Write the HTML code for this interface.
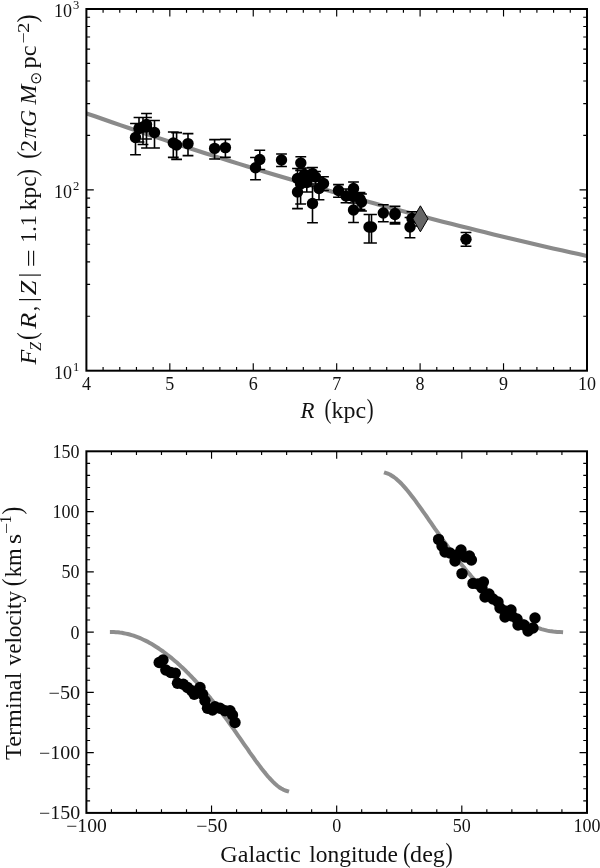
<!DOCTYPE html>
<html lang="en"><head><meta charset="utf-8"><title>Figure</title>
<style>html,body{margin:0;padding:0;background:#fff}svg{display:block}text{font-family:"Liberation Serif","DejaVu Serif",serif;fill:#111}.tk{font-size:18px}.sp{font-size:12.6px}.lb{font-size:22.5px}.ls{font-size:15.8px}.pr{font-size:28px}.br{font-size:26px}.od{font-size:15px}.dj{font-family:"DejaVu Sans",sans-serif}.it{font-style:italic}</style></head><body>
<svg width="600" height="868" viewBox="0 0 600 868">
<rect width="600" height="868" fill="#fff"/>
<g id="top">
<clipPath id="c1"><rect x="86.4" y="9.0" width="500.55000000000007" height="361.7"/></clipPath>
<polyline clip-path="url(#c1)" fill="none" stroke="#8a8a8a" stroke-width="4.1" points="86.4,113.4 94.9,116.3 103.4,119.3 111.9,122.2 120.3,125.1 128.8,128.0 137.3,130.9 145.8,133.7 154.3,136.6 162.8,139.4 171.2,142.2 179.7,145.0 188.2,147.7 196.7,150.5 205.2,153.2 213.7,155.9 222.1,158.6 230.6,161.2 239.1,163.9 247.6,166.5 256.1,169.1 264.6,171.7 273.0,174.3 281.5,176.8 290.0,179.3 298.5,181.9 307.0,184.3 315.5,186.8 323.9,189.3 332.4,191.7 340.9,194.1 349.4,196.5 357.9,198.9 366.4,201.3 374.9,203.6 383.3,205.9 391.8,208.2 400.3,210.5 408.8,212.8 417.3,215.0 425.8,217.3 434.2,219.5 442.7,221.7 451.2,223.8 459.7,226.0 468.2,228.1 476.7,230.2 485.1,232.3 493.6,234.4 502.1,236.4 510.6,238.5 519.1,240.5 527.6,242.5 536.0,244.5 544.5,246.4 553.0,248.4 561.5,250.3 570.0,252.2 578.5,254.1 587.0,256.0"/>
<path d="M135.5 123.5V154.7M130.1 123.5h10.8M130.1 154.7h10.8M139.0 117.5V142.0M133.6 117.5h10.8M133.6 142.0h10.8M143.0 117.5V144.5M137.6 117.5h10.8M137.6 144.5h10.8M146.5 113.5V148.0M141.1 113.5h10.8M141.1 148.0h10.8M146.5 117.5V139.0M141.1 117.5h10.8M141.1 139.0h10.8M154.5 120.5V148.0M149.1 120.5h10.8M149.1 148.0h10.8M173.3 132.0V157.4M167.9 132.0h10.8M167.9 157.4h10.8M176.6 132.6V159.4M171.2 132.6h10.8M171.2 159.4h10.8M188.0 133.6V155.6M182.6 133.6h10.8M182.6 155.6h10.8M214.6 139.6V159.0M209.2 139.6h10.8M209.2 159.0h10.8M225.4 139.4V157.4M220.0 139.4h10.8M220.0 157.4h10.8M255.5 157.5V179.8M250.1 157.5h10.8M250.1 179.8h10.8M259.8 150.3V169.5M254.4 150.3h10.8M254.4 169.5h10.8M281.5 154.0V166.5M276.1 154.0h10.8M276.1 166.5h10.8M300.8 156.8V168.8M295.4 156.8h10.8M295.4 168.8h10.8M297.5 168.5V208.5M292.1 168.5h10.8M292.1 208.5h10.8M297.5 180.0V208.8M292.1 180.0h10.8M292.1 208.8h10.8M300.6 170.5V204.0M295.2 170.5h10.8M295.2 204.0h10.8M306.8 172.0V192.0M301.4 172.0h10.8M301.4 192.0h10.8M304.5 168.0V181.0M299.1 168.0h10.8M299.1 181.0h10.8M312.5 167.5V181.0M307.1 167.5h10.8M307.1 181.0h10.8M312.5 186.0V222.8M307.1 186.0h10.8M307.1 222.8h10.8M315.5 171.5V184.0M310.1 171.5h10.8M310.1 184.0h10.8M319.0 178.0V199.8M313.6 178.0h10.8M313.6 199.8h10.8M323.5 176.8V190.5M318.1 176.8h10.8M318.1 190.5h10.8M338.5 184.6V197.3M333.1 184.6h10.8M333.1 197.3h10.8M346.0 189.0V202.8M340.6 189.0h10.8M340.6 202.8h10.8M353.5 182.0V195.0M348.1 182.0h10.8M348.1 195.0h10.8M353.5 200.0V222.5M348.1 200.0h10.8M348.1 222.5h10.8M353.0 190.0V203.0M347.6 190.0h10.8M347.6 203.0h10.8M360.0 192.5V209.5M354.6 192.5h10.8M354.6 209.5h10.8M361.5 194.0V211.0M356.1 194.0h10.8M356.1 211.0h10.8M369.0 214.5V243.0M363.6 214.5h10.8M363.6 243.0h10.8M371.5 214.5V243.0M366.1 214.5h10.8M366.1 243.0h10.8M383.3 204.8V221.8M377.9 204.8h10.8M377.9 221.8h10.8M395.0 206.2V222.5M389.6 206.2h10.8M389.6 222.5h10.8M395.0 206.4V224.0M389.6 206.4h10.8M389.6 224.0h10.8M412.0 211.8V226.0M406.6 211.8h10.8M406.6 226.0h10.8M410.0 217.5V237.8M404.6 217.5h10.8M404.6 237.8h10.8M466.0 232.5V246.3M460.6 232.5h10.8M460.6 246.3h10.8" stroke="#000" stroke-width="1.6" fill="none"/>
<circle cx="135.5" cy="137.5" r="5.7" fill="#000"/>
<circle cx="139.0" cy="128.5" r="5.7" fill="#000"/>
<circle cx="143.0" cy="127.0" r="5.7" fill="#000"/>
<circle cx="146.5" cy="124.5" r="5.7" fill="#000"/>
<circle cx="146.5" cy="127.0" r="5.7" fill="#000"/>
<circle cx="154.5" cy="132.5" r="5.7" fill="#000"/>
<circle cx="173.3" cy="143.0" r="5.7" fill="#000"/>
<circle cx="176.6" cy="145.0" r="5.7" fill="#000"/>
<circle cx="188.0" cy="143.6" r="5.7" fill="#000"/>
<circle cx="214.6" cy="148.4" r="5.7" fill="#000"/>
<circle cx="225.4" cy="147.6" r="5.7" fill="#000"/>
<circle cx="255.5" cy="167.8" r="5.7" fill="#000"/>
<circle cx="259.8" cy="159.5" r="5.7" fill="#000"/>
<circle cx="281.5" cy="160.0" r="5.7" fill="#000"/>
<circle cx="300.8" cy="163.0" r="5.7" fill="#000"/>
<circle cx="297.5" cy="178.5" r="5.7" fill="#000"/>
<circle cx="297.5" cy="192.0" r="5.7" fill="#000"/>
<circle cx="300.6" cy="184.0" r="5.7" fill="#000"/>
<circle cx="306.8" cy="182.5" r="5.7" fill="#000"/>
<circle cx="304.5" cy="174.5" r="5.7" fill="#000"/>
<circle cx="312.5" cy="173.5" r="5.7" fill="#000"/>
<circle cx="312.5" cy="203.5" r="5.7" fill="#000"/>
<circle cx="315.5" cy="177.0" r="5.7" fill="#000"/>
<circle cx="319.0" cy="188.5" r="5.7" fill="#000"/>
<circle cx="323.5" cy="183.5" r="5.7" fill="#000"/>
<circle cx="338.5" cy="190.5" r="5.7" fill="#000"/>
<circle cx="346.0" cy="196.0" r="5.7" fill="#000"/>
<circle cx="353.5" cy="188.5" r="5.7" fill="#000"/>
<circle cx="353.5" cy="210.0" r="5.7" fill="#000"/>
<circle cx="353.0" cy="196.5" r="5.7" fill="#000"/>
<circle cx="360.0" cy="199.0" r="5.7" fill="#000"/>
<circle cx="361.5" cy="202.0" r="5.7" fill="#000"/>
<circle cx="369.0" cy="227.0" r="5.7" fill="#000"/>
<circle cx="371.5" cy="227.0" r="5.7" fill="#000"/>
<circle cx="383.3" cy="213.0" r="5.7" fill="#000"/>
<circle cx="395.0" cy="213.5" r="5.7" fill="#000"/>
<circle cx="395.0" cy="214.5" r="5.7" fill="#000"/>
<circle cx="412.0" cy="218.5" r="5.7" fill="#000"/>
<circle cx="410.0" cy="227.0" r="5.7" fill="#000"/>
<circle cx="466.0" cy="239.3" r="5.7" fill="#000"/>
<path d="M420.4 205.8L428.0 218.8L420.4 231.8L412.79999999999995 218.8Z" fill="#666" stroke="#000" stroke-width="1"/>
<path d="M169.83 370.7v-7.4M169.83 9.0v7.4M253.25 370.7v-7.4M253.25 9.0v7.4M336.68 370.7v-7.4M336.68 9.0v7.4M420.10 370.7v-7.4M420.10 9.0v7.4M503.53 370.7v-7.4M503.53 9.0v7.4M86.4 189.85h7.4M586.95 189.85h-7.4M103.09 370.7v-3.7M103.09 9.0v3.7M119.77 370.7v-3.7M119.77 9.0v3.7M136.45 370.7v-3.7M136.45 9.0v3.7M153.14 370.7v-3.7M153.14 9.0v3.7M186.51 370.7v-3.7M186.51 9.0v3.7M203.20 370.7v-3.7M203.20 9.0v3.7M219.88 370.7v-3.7M219.88 9.0v3.7M236.57 370.7v-3.7M236.57 9.0v3.7M269.94 370.7v-3.7M269.94 9.0v3.7M286.62 370.7v-3.7M286.62 9.0v3.7M303.31 370.7v-3.7M303.31 9.0v3.7M319.99 370.7v-3.7M319.99 9.0v3.7M353.36 370.7v-3.7M353.36 9.0v3.7M370.05 370.7v-3.7M370.05 9.0v3.7M386.73 370.7v-3.7M386.73 9.0v3.7M403.42 370.7v-3.7M403.42 9.0v3.7M436.78 370.7v-3.7M436.78 9.0v3.7M453.47 370.7v-3.7M453.47 9.0v3.7M470.15 370.7v-3.7M470.15 9.0v3.7M486.84 370.7v-3.7M486.84 9.0v3.7M520.21 370.7v-3.7M520.21 9.0v3.7M536.90 370.7v-3.7M536.90 9.0v3.7M553.58 370.7v-3.7M553.58 9.0v3.7M570.27 370.7v-3.7M570.27 9.0v3.7M86.4 316.26h3.7M586.95 316.26h-3.7M86.4 284.41h3.7M586.95 284.41h-3.7M86.4 261.82h3.7M586.95 261.82h-3.7M86.4 244.29h3.7M586.95 244.29h-3.7M86.4 229.97h3.7M586.95 229.97h-3.7M86.4 217.86h3.7M586.95 217.86h-3.7M86.4 207.38h3.7M586.95 207.38h-3.7M86.4 198.13h3.7M586.95 198.13h-3.7M86.4 135.41h3.7M586.95 135.41h-3.7M86.4 103.56h3.7M586.95 103.56h-3.7M86.4 80.97h3.7M586.95 80.97h-3.7M86.4 63.44h3.7M586.95 63.44h-3.7M86.4 49.12h3.7M586.95 49.12h-3.7M86.4 37.01h3.7M586.95 37.01h-3.7M86.4 26.53h3.7M586.95 26.53h-3.7M86.4 17.28h3.7M586.95 17.28h-3.7" stroke="#000" stroke-width="1.15" fill="none"/>
<rect x="86.4" y="9.0" width="500.6" height="361.7" fill="none" stroke="#000" stroke-width="2"/>
<text class="tk" text-anchor="middle" x="86.4" y="390.0">4</text>
<text class="tk" text-anchor="middle" x="169.8" y="390.0">5</text>
<text class="tk" text-anchor="middle" x="253.3" y="390.0">6</text>
<text class="tk" text-anchor="middle" x="336.7" y="390.0">7</text>
<text class="tk" text-anchor="middle" x="420.1" y="390.0">8</text>
<text class="tk" text-anchor="middle" x="503.5" y="390.0">9</text>
<text class="tk" text-anchor="middle" x="587.0" y="390.0">10</text>
<text class="tk" text-anchor="end" x="72.0" y="378.5">10</text><text class="sp" text-anchor="end" x="79.3" y="371.1">1</text>
<text class="tk" text-anchor="end" x="72.0" y="197.7">10</text><text class="sp" text-anchor="end" x="79.3" y="190.2">2</text>
<text class="tk" text-anchor="end" x="72.0" y="16.8">10</text><text class="sp" text-anchor="end" x="79.3" y="9.4">3</text>
<g transform="translate(0,418.1)">
<text class="lb it" x="300.52" y="0" textLength="13.96" lengthAdjust="spacingAndGlyphs">R</text>
<text class="pr" x="324.39" y="0" textLength="6.87" lengthAdjust="spacingAndGlyphs">(</text>
<text class="lb" x="331.64" y="0" textLength="34.59" lengthAdjust="spacingAndGlyphs">kpc</text>
<text class="pr" x="366.83" y="0" textLength="6.87" lengthAdjust="spacingAndGlyphs">)</text>
</g>
<g transform="translate(36.3,364.5) rotate(-90)">
<text class="lb it" x="0.13" y="0" textLength="14.67" lengthAdjust="spacingAndGlyphs">F</text>
<text class="ls it" x="13.71" y="4.6" textLength="8.66" lengthAdjust="spacingAndGlyphs">Z</text>
<text class="pr" x="24.47" y="0" textLength="7.78" lengthAdjust="spacingAndGlyphs">(</text>
<text class="lb it" x="35.84" y="0" textLength="15.89" lengthAdjust="spacingAndGlyphs">R</text>
<text class="lb" x="53.46" y="0" textLength="4.87" lengthAdjust="spacingAndGlyphs">,</text>
<text class="br" x="62.39" y="0" textLength="4.82" lengthAdjust="spacingAndGlyphs">|</text>
<text class="lb it" x="69.38" y="0" textLength="14.50" lengthAdjust="spacingAndGlyphs">Z</text>
<text class="br" x="86.89" y="0" textLength="4.82" lengthAdjust="spacingAndGlyphs">|</text>
<text class="lb" x="97.29" y="2.6" textLength="18.18" lengthAdjust="spacingAndGlyphs">=</text>
<text class="lb" x="121.67" y="0" textLength="27.45" lengthAdjust="spacingAndGlyphs">1.1</text>
<text class="lb" x="154.35" y="0" textLength="33.97" lengthAdjust="spacingAndGlyphs">kpc</text>
<text class="pr" x="188.08" y="0" textLength="7.39" lengthAdjust="spacingAndGlyphs">)</text>
<text class="pr" x="205.77" y="0" textLength="7.78" lengthAdjust="spacingAndGlyphs">(</text>
<text class="lb" x="212.77" y="0" textLength="11.72" lengthAdjust="spacingAndGlyphs">2</text>
<text class="lb it" x="226.18" y="0" textLength="11.11" lengthAdjust="spacingAndGlyphs">π</text>
<text class="lb it" x="237.72" y="0" textLength="16.78" lengthAdjust="spacingAndGlyphs">G</text>
<text class="lb it" x="259.98" y="0" textLength="19.92" lengthAdjust="spacingAndGlyphs">M</text>
<text class="od dj" x="279.86" y="4.4" textLength="13.17" lengthAdjust="spacingAndGlyphs">⊙</text>
<text class="lb" x="296.11" y="0" textLength="23.04" lengthAdjust="spacingAndGlyphs">pc</text>
<text class="ls" x="320.92" y="-7.6" textLength="11.15" lengthAdjust="spacingAndGlyphs">−</text>
<text class="ls" x="331.49" y="-7.8" textLength="10.35" lengthAdjust="spacingAndGlyphs">2</text>
<text class="pr" x="342.02" y="0" textLength="8.04" lengthAdjust="spacingAndGlyphs">)</text>
</g>
</g>
<g id="bottom">
<polyline fill="none" stroke="#8e8e8e" stroke-width="4" stroke-linejoin="round" stroke-linecap="square" points="111.9,632.1 113.9,632.1 115.9,632.2 117.8,632.3 119.8,632.6 121.8,632.8 123.7,633.2 125.7,633.6 127.7,634.0 129.6,634.5 131.6,635.1 133.6,635.7 135.5,636.4 137.5,637.1 139.5,637.9 141.5,638.8 143.4,639.7 145.4,640.6 147.4,641.6 149.3,642.7 151.3,643.8 153.3,645.0 155.2,646.2 157.2,647.5 159.2,648.8 161.1,650.1 163.1,651.5 165.1,653.0 167.0,654.5 169.0,656.0 171.0,657.6 172.9,659.2 174.9,660.9 176.9,662.6 178.9,664.4 180.8,666.2 182.8,668.0 184.8,669.9 186.7,671.9 188.7,673.8 190.7,675.8 192.6,677.9 194.6,680.0 196.6,682.1 198.5,684.3 200.5,686.5 202.5,688.7 204.4,691.0 206.4,693.3 208.4,695.7 210.4,698.1 212.3,700.6 214.3,703.0 216.3,705.6 218.2,708.1 220.2,710.7 222.2,713.3 224.1,716.0 226.1,718.6 228.1,721.4 230.0,724.1 232.0,726.9 234.0,729.6 235.9,732.4 237.9,735.3 239.9,738.1 241.8,740.9 243.8,743.8 245.8,746.6 247.8,749.4 249.7,752.3 251.7,755.1 253.7,757.8 255.6,760.6 257.6,763.3 259.6,765.9 261.5,768.5 263.5,771.0 265.5,773.4 267.4,775.8 269.4,778.0 271.4,780.1 273.3,782.1 275.3,784.0 277.3,785.7 279.2,787.2 281.2,788.5 283.2,789.6 285.2,790.5 287.1,791.1"/>
<polyline fill="none" stroke="#8e8e8e" stroke-width="4" stroke-linejoin="round" stroke-linecap="square" points="561.1,632.1 559.2,632.0 557.2,632.0 555.2,631.8 553.2,631.6 551.3,631.3 549.3,631.0 547.3,630.6 545.4,630.1 543.4,629.6 541.4,629.1 539.5,628.4 537.5,627.8 535.5,627.0 533.6,626.2 531.6,625.4 529.6,624.5 527.7,623.5 525.7,622.5 523.7,621.4 521.8,620.3 519.8,619.2 517.8,618.0 515.8,616.7 513.9,615.4 511.9,614.0 509.9,612.6 508.0,611.2 506.0,609.7 504.0,608.1 502.1,606.5 500.1,604.9 498.1,603.2 496.2,601.5 494.2,599.8 492.2,597.9 490.3,596.1 488.3,594.2 486.3,592.3 484.4,590.3 482.4,588.3 480.4,586.3 478.4,584.2 476.5,582.1 474.5,579.9 472.5,577.7 470.6,575.4 468.6,573.1 466.6,570.8 464.7,568.4 462.7,566.0 460.7,563.6 458.8,561.1 456.8,558.6 454.8,556.0 452.9,553.5 450.9,550.8 448.9,548.2 447.0,545.5 445.0,542.8 443.0,540.1 441.0,537.3 439.1,534.5 437.1,531.7 435.1,528.9 433.2,526.1 431.2,523.2 429.2,520.4 427.3,517.5 425.3,514.7 423.3,511.9 421.4,509.1 419.4,506.3 417.4,503.6 415.5,500.9 413.5,498.3 411.5,495.7 409.6,493.2 407.6,490.7 405.6,488.4 403.6,486.1 401.7,484.0 399.7,482.0 397.7,480.2 395.8,478.5 393.8,477.0 391.8,475.7 389.9,474.5 387.9,473.7 385.9,473.0"/>
<circle cx="159.2" cy="662.5" r="5.7" fill="#000"/>
<circle cx="163.0" cy="660.0" r="5.7" fill="#000"/>
<circle cx="165.8" cy="670.0" r="5.7" fill="#000"/>
<circle cx="170.8" cy="672.5" r="5.7" fill="#000"/>
<circle cx="175.3" cy="673.3" r="5.7" fill="#000"/>
<circle cx="177.5" cy="683.3" r="5.7" fill="#000"/>
<circle cx="183.3" cy="684.2" r="5.7" fill="#000"/>
<circle cx="187.5" cy="687.5" r="5.7" fill="#000"/>
<circle cx="191.7" cy="690.8" r="5.7" fill="#000"/>
<circle cx="194.2" cy="694.2" r="5.7" fill="#000"/>
<circle cx="200.0" cy="687.5" r="5.7" fill="#000"/>
<circle cx="202.5" cy="694.2" r="5.7" fill="#000"/>
<circle cx="205.0" cy="700.8" r="5.7" fill="#000"/>
<circle cx="207.5" cy="708.3" r="5.7" fill="#000"/>
<circle cx="212.5" cy="710.0" r="5.7" fill="#000"/>
<circle cx="215.0" cy="706.7" r="5.7" fill="#000"/>
<circle cx="220.0" cy="708.3" r="5.7" fill="#000"/>
<circle cx="225.0" cy="710.8" r="5.7" fill="#000"/>
<circle cx="230.0" cy="710.8" r="5.7" fill="#000"/>
<circle cx="232.5" cy="715.0" r="5.7" fill="#000"/>
<circle cx="235.0" cy="722.5" r="5.7" fill="#000"/>
<circle cx="438.6" cy="539.4" r="5.7" fill="#000"/>
<circle cx="442.0" cy="546.0" r="5.7" fill="#000"/>
<circle cx="445.0" cy="552.0" r="5.7" fill="#000"/>
<circle cx="450.0" cy="553.0" r="5.7" fill="#000"/>
<circle cx="455.0" cy="561.0" r="5.7" fill="#000"/>
<circle cx="457.0" cy="555.0" r="5.7" fill="#000"/>
<circle cx="461.0" cy="550.0" r="5.7" fill="#000"/>
<circle cx="465.0" cy="557.0" r="5.7" fill="#000"/>
<circle cx="469.4" cy="556.0" r="5.7" fill="#000"/>
<circle cx="471.4" cy="560.0" r="5.7" fill="#000"/>
<circle cx="462.0" cy="573.6" r="5.7" fill="#000"/>
<circle cx="473.0" cy="583.4" r="5.7" fill="#000"/>
<circle cx="478.0" cy="584.0" r="5.7" fill="#000"/>
<circle cx="483.4" cy="582.0" r="5.7" fill="#000"/>
<circle cx="482.0" cy="588.0" r="5.7" fill="#000"/>
<circle cx="485.0" cy="597.0" r="5.7" fill="#000"/>
<circle cx="489.0" cy="594.0" r="5.7" fill="#000"/>
<circle cx="493.0" cy="599.0" r="5.7" fill="#000"/>
<circle cx="498.0" cy="602.0" r="5.7" fill="#000"/>
<circle cx="500.0" cy="608.0" r="5.7" fill="#000"/>
<circle cx="505.0" cy="611.0" r="5.7" fill="#000"/>
<circle cx="505.0" cy="617.0" r="5.7" fill="#000"/>
<circle cx="511.0" cy="610.0" r="5.7" fill="#000"/>
<circle cx="512.0" cy="616.0" r="5.7" fill="#000"/>
<circle cx="517.0" cy="619.0" r="5.7" fill="#000"/>
<circle cx="518.0" cy="625.0" r="5.7" fill="#000"/>
<circle cx="524.0" cy="625.0" r="5.7" fill="#000"/>
<circle cx="528.0" cy="631.0" r="5.7" fill="#000"/>
<circle cx="533.0" cy="628.0" r="5.7" fill="#000"/>
<circle cx="535.0" cy="618.0" r="5.7" fill="#000"/>
<path d="M211.54 812.85v-7.4M211.54 451.3v7.4M336.68 812.85v-7.4M336.68 451.3v7.4M461.81 812.85v-7.4M461.81 451.3v7.4M86.4 752.59h7.4M586.95 752.59h-7.4M86.4 692.33h7.4M586.95 692.33h-7.4M86.4 632.08h7.4M586.95 632.08h-7.4M86.4 571.82h7.4M586.95 571.82h-7.4M86.4 511.56h7.4M586.95 511.56h-7.4M111.43 812.85v-3.7M111.43 451.3v3.7M136.46 812.85v-3.7M136.46 451.3v3.7M161.48 812.85v-3.7M161.48 451.3v3.7M186.51 812.85v-3.7M186.51 451.3v3.7M236.57 812.85v-3.7M236.57 451.3v3.7M261.59 812.85v-3.7M261.59 451.3v3.7M286.62 812.85v-3.7M286.62 451.3v3.7M311.65 812.85v-3.7M311.65 451.3v3.7M361.70 812.85v-3.7M361.70 451.3v3.7M386.73 812.85v-3.7M386.73 451.3v3.7M411.76 812.85v-3.7M411.76 451.3v3.7M436.79 812.85v-3.7M436.79 451.3v3.7M486.84 812.85v-3.7M486.84 451.3v3.7M511.87 812.85v-3.7M511.87 451.3v3.7M536.90 812.85v-3.7M536.90 451.3v3.7M561.92 812.85v-3.7M561.92 451.3v3.7M86.4 800.80h3.7M586.95 800.80h-3.7M86.4 788.75h3.7M586.95 788.75h-3.7M86.4 776.70h3.7M586.95 776.70h-3.7M86.4 764.64h3.7M586.95 764.64h-3.7M86.4 740.54h3.7M586.95 740.54h-3.7M86.4 728.49h3.7M586.95 728.49h-3.7M86.4 716.44h3.7M586.95 716.44h-3.7M86.4 704.38h3.7M586.95 704.38h-3.7M86.4 680.28h3.7M586.95 680.28h-3.7M86.4 668.23h3.7M586.95 668.23h-3.7M86.4 656.18h3.7M586.95 656.18h-3.7M86.4 644.13h3.7M586.95 644.13h-3.7M86.4 620.02h3.7M586.95 620.02h-3.7M86.4 607.97h3.7M586.95 607.97h-3.7M86.4 595.92h3.7M586.95 595.92h-3.7M86.4 583.87h3.7M586.95 583.87h-3.7M86.4 559.76h3.7M586.95 559.76h-3.7M86.4 547.71h3.7M586.95 547.71h-3.7M86.4 535.66h3.7M586.95 535.66h-3.7M86.4 523.61h3.7M586.95 523.61h-3.7M86.4 499.51h3.7M586.95 499.51h-3.7M86.4 487.46h3.7M586.95 487.46h-3.7M86.4 475.40h3.7M586.95 475.40h-3.7M86.4 463.35h3.7M586.95 463.35h-3.7" stroke="#000" stroke-width="1.15" fill="none"/>
<rect x="86.4" y="451.3" width="500.6" height="361.6" fill="none" stroke="#000" stroke-width="2"/>
<g transform="translate(0,832.1)">
<text class="tk" x="66.32" y="0" textLength="40.42" lengthAdjust="spacingAndGlyphs">−100</text>
</g>
<g transform="translate(0,832.1)">
<text class="tk" x="196.31" y="0" textLength="31.15" lengthAdjust="spacingAndGlyphs">−50</text>
</g>
<text class="tk" text-anchor="middle" x="336.7" y="832.1">0</text>
<text class="tk" text-anchor="middle" x="461.8" y="832.1">50</text>
<text class="tk" text-anchor="middle" x="587.0" y="832.1">100</text>
<g transform="translate(0,819.2)">
<text class="tk" x="39.01" y="0" textLength="41.15" lengthAdjust="spacingAndGlyphs">−150</text>
</g>
<g transform="translate(0,759.0)">
<text class="tk" x="39.01" y="0" textLength="41.15" lengthAdjust="spacingAndGlyphs">−100</text>
</g>
<g transform="translate(0,698.7)">
<text class="tk" x="48.49" y="0" textLength="31.68" lengthAdjust="spacingAndGlyphs">−50</text>
</g>
<text class="tk" text-anchor="end" x="79.6" y="638.5">0</text>
<text class="tk" text-anchor="end" x="79.6" y="578.2">50</text>
<text class="tk" text-anchor="end" x="79.6" y="518.0">100</text>
<text class="tk" text-anchor="end" x="79.6" y="457.7">150</text>
<g transform="translate(0,862.1)">
<text class="lb" x="220.31" y="0" textLength="80.43" lengthAdjust="spacingAndGlyphs">Galactic</text>
<text class="lb" x="309.33" y="0" textLength="88.58" lengthAdjust="spacingAndGlyphs">longitude</text>
<text class="pr" x="403.01" y="0" textLength="7.52" lengthAdjust="spacingAndGlyphs">(</text>
<text class="lb" x="410.13" y="0" textLength="34.73" lengthAdjust="spacingAndGlyphs">deg</text>
<text class="pr" x="445.60" y="0" textLength="7.26" lengthAdjust="spacingAndGlyphs">)</text>
</g>
<g transform="translate(21.4,759.5) rotate(-90)">
<text class="lb" x="-0.43" y="0" textLength="87.31" lengthAdjust="spacingAndGlyphs">Terminal</text>
<text class="lb" x="94.10" y="0" textLength="74.39" lengthAdjust="spacingAndGlyphs">velocity</text>
<text class="pr" x="173.17" y="0" textLength="7.78" lengthAdjust="spacingAndGlyphs">(</text>
<text class="lb" x="182.27" y="0" textLength="28.99" lengthAdjust="spacingAndGlyphs">km</text>
<text class="lb" x="215.64" y="0" textLength="10.10" lengthAdjust="spacingAndGlyphs">s</text>
<text class="ls" x="225.52" y="-9.8" textLength="11.15" lengthAdjust="spacingAndGlyphs">−</text>
<text class="ls" x="236.08" y="-10" textLength="8.10" lengthAdjust="spacingAndGlyphs">1</text>
<text class="pr" x="245.05" y="0" textLength="7.78" lengthAdjust="spacingAndGlyphs">)</text>
</g>
</g>
</svg></body></html>
